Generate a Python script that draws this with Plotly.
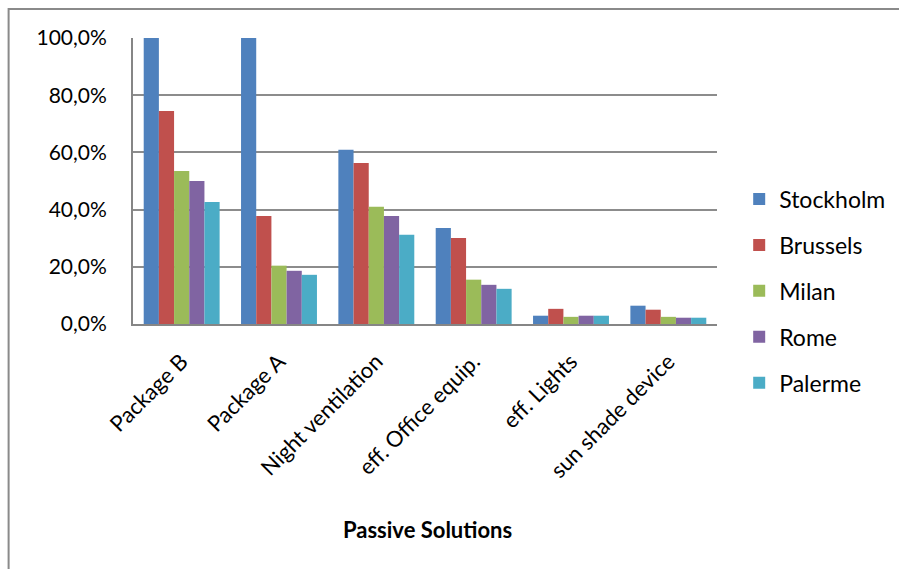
import plotly.graph_objects as go

categories = ["Package B", "Package A", "Night ventilation", "eff. Office equip.", "eff. Lights", "sun shade device"]
cities = ["Stockholm", "Brussels", "Milan", "Rome", "Palerme"]
stockholm = [100.0, 100.0, 60.9, 33.6, 2.9, 6.4]
brussels = [74.5, 37.8, 56.3, 30.1, 5.3, 5.0]
milan = [53.5, 20.4, 41.0, 15.5, 2.5, 2.5]
rome = [50.0, 18.6, 37.8, 13.7, 2.9, 2.2]
palerme = [42.7, 17.2, 31.2, 12.3, 2.9, 2.2]
colors = ["#4F81BD", "#C0504D", "#9BBB59", "#8064A2", "#4BACC6"]
y_ticks = [0, 20, 40, 60, 80, 100]
y_tick_labels = ["0,0%", "20,0%", "40,0%", "60,0%", "80,0%", "100,0%"]

series = [stockholm, brussels, milan, rome, palerme]
font_family = "Lato, 'Open Sans', sans-serif"

fig = go.Figure()
for name, vals, col in zip(cities, series, colors):
    fig.add_trace(go.Bar(x=categories, y=vals, name=name, marker_color=col,
                         marker_line_width=0, legendgroup=name))

fig.update_layout(
    width=899, height=569,
    margin=dict(l=133, r=182, t=38, b=245, autoexpand=False),
    plot_bgcolor="white", paper_bgcolor="white",
    barmode="group", bargap=0.22, bargroupgap=0,
    font=dict(family=font_family, size=21, color="black"),
    showlegend=True,
    legend=dict(x=1.038, y=0.115, xanchor="left", yanchor="middle",
                font=dict(size=23), tracegroupgap=13, itemwidth=30),
    xaxis=dict(showline=True, linecolor="#868686", linewidth=2,
               tickangle=-45, ticks="", tickfont=dict(size=22),
               ticklabelstandoff=14),
    # main y axis: grid and labels (invisible long ticks push the labels out)
    yaxis=dict(range=[0, 100], tickvals=y_ticks, ticktext=y_tick_labels,
               showline=True, linecolor="#868686", linewidth=2,
               showgrid=True, gridcolor="#8c8c8c", gridwidth=1.5,
               ticks="outside", ticklen=20, tickcolor="rgba(0,0,0,0)",
               tickfont=dict(size=21), zeroline=False),
    # overlay axis: the short visible tick marks
    yaxis2=dict(range=[0, 100], tickvals=y_ticks, overlaying="y", side="left",
                showticklabels=False, showgrid=False, zeroline=False,
                showline=False, ticks="outside", ticklen=7,
                tickcolor="#868686", tickwidth=1.5),
    annotations=[dict(text="<b>Passive Solutions</b>", x=0.505, y=-0.72,
                      xref="paper", yref="paper", showarrow=False,
                      xanchor="center", yanchor="middle",
                      font=dict(size=22))],
    shapes=[dict(type="rect", xref="paper", yref="paper",
                 x0=-0.213, y0=-0.9, x1=1.33, y1=1.101,
                 line=dict(color="#8a8a8a", width=2), layer="below")],
)

fig.write_html("out.html")
